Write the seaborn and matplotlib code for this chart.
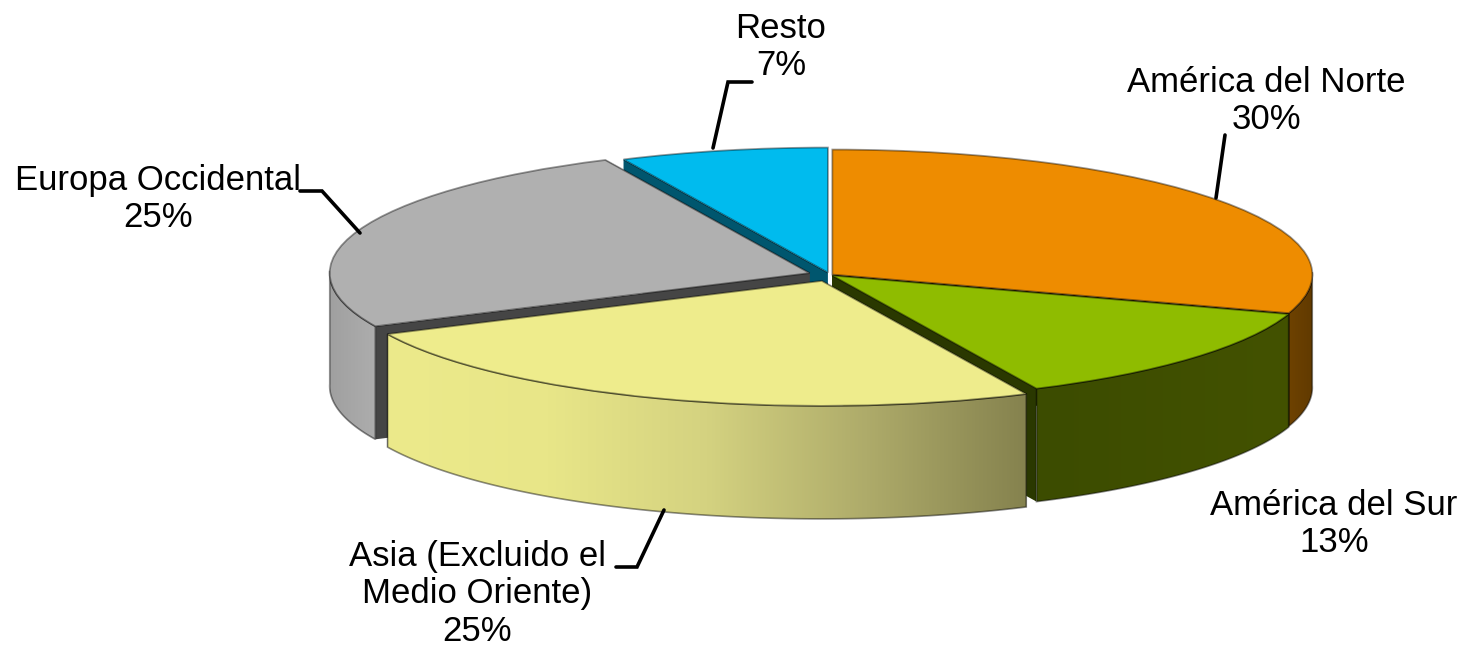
import numpy as np
import matplotlib
matplotlib.use('Agg')
import matplotlib.pyplot as plt
import seaborn as sns
from matplotlib.colors import LinearSegmentedColormap
from matplotlib.patches import Polygon

# Datos del grafico
regiones = ['América del Norte', 'América del Sur', 'Asia (Excluido el\nMedio Oriente)',
            'Europa Occidental', 'Resto']
porcentajes = [30, 13, 25, 25, 7]
separacion = [0.006, 0.006, 0.05, 0.045, 0.02]

colores = ['#ee8c00', '#8fbc00', '#eeec8c', '#b0b0b0', '#00bbee']
colores_corte = ['#3a2400', '#2a3800', '#6a6a40', '#454545', '#00566e']
colores_lado = [['#6e4200', '#613a00'],
                ['#3c4c00', '#435200'],
                ['#ecea8b', '#e8e688', '#d4d280', '#aeab6a', '#85824e'],
                ['#a0a0a0', '#adadad'],
                ['#00566e', '#00566e']]
orden_dibujo = [4, 3, 0, 1, 2]  # de atras hacia adelante

# Geometria en pixeles de la imagen
ANCHO, ALTO = 1464, 648
CX, CY = 830, 275
RX, RY = 480, 125
GROSOR = 113 / RY


def px(x, y):
    return (x - CX) / RX, (CY - y) / RY


sns.set_style('white')
plt.rcParams['font.family'] = ['Liberation Sans', 'DejaVu Sans']

fig = plt.figure(figsize=(ANCHO / 100, ALTO / 100), dpi=100)
ax = fig.add_axes([0, 0, 1, 1])

wedges, _ = ax.pie(porcentajes, explode=separacion, colors=sns.color_palette(colores),
                   startangle=90, counterclock=False, radius=1,
                   wedgeprops={'edgecolor': (0, 0, 0, 0.4), 'linewidth': 1.3})


def punto(wedge, grados):
    t = np.radians(grados)
    return wedge.center[0] + wedge.r * np.cos(t), wedge.center[1] + wedge.r * np.sin(t)


def dibujar_cuerpo(wedge, i, z):
    cx, cy = wedge.center
    # caras de corte de la porcion
    for ang in (wedge.theta1, wedge.theta2):
        x, y = punto(wedge, ang)
        cara = [(cx, cy), (x, y), (x, y - GROSOR), (cx, cy - GROSOR)]
        ax.add_patch(Polygon(cara, closed=True, facecolor=colores_corte[i],
                             edgecolor='none', zorder=z))

    # pared exterior, solo la parte que mira al frente
    angulos = np.linspace(wedge.theta1, wedge.theta2, 200)
    angulos = angulos[np.sin(np.radians(angulos)) <= 0.02]
    if len(angulos) < 2:
        return
    xs, ys = punto(wedge, angulos)
    borde = list(zip(xs, ys)) + list(zip(xs[::-1], ys[::-1] - GROSOR))
    cmap = LinearSegmentedColormap.from_list('lado', colores_lado[i])
    grad = np.linspace(0, 1, 256).reshape(1, -1)
    im = ax.imshow(grad, cmap=cmap, aspect='auto', zorder=z + 1,
                   extent=[xs.min(), xs.max(), ys.min() - GROSOR, ys.max()])
    im.set_clip_path(Polygon(borde, closed=True, transform=ax.transData))
    ax.add_patch(Polygon(borde, closed=True, fill=False, edgecolor=(0, 0, 0, 0.45),
                         linewidth=1.2, zorder=z + 2))


for rango, i in enumerate(orden_dibujo):
    z = 10 * rango + 1
    dibujar_cuerpo(wedges[i], i, z)
    wedges[i].set_zorder(z + 3)

ax.set_aspect('auto')
ax.set_xlim(px(0, 0)[0], px(ANCHO, 0)[0])
ax.set_ylim(px(0, ALTO)[1], px(0, 0)[1])

# Lineas guia
guias = [[(713, 148), (728, 82), (752, 82)],
         [(1216, 198), (1225, 135)],
         [(360, 233), (322, 191), (300, 191)],
         [(664, 510), (637, 567), (616, 567)]]
for guia in guias:
    xs, ys = zip(*[px(*p) for p in guia])
    ax.plot(xs, ys, color='black', lw=2.6, zorder=80, solid_joinstyle='miter')

# Etiquetas
pos_texto = [(1266, 101), (1334, 524), (477, 594), (158, 199), (781, 47)]
for nombre, valor, pos in zip(regiones, porcentajes, pos_texto):
    ax.text(*px(*pos), f'{nombre}\n{valor}%', ha='center', va='center', fontsize=25,
            linespacing=1.18, color='black', zorder=90)

fig.savefig('out.png', dpi=100)
